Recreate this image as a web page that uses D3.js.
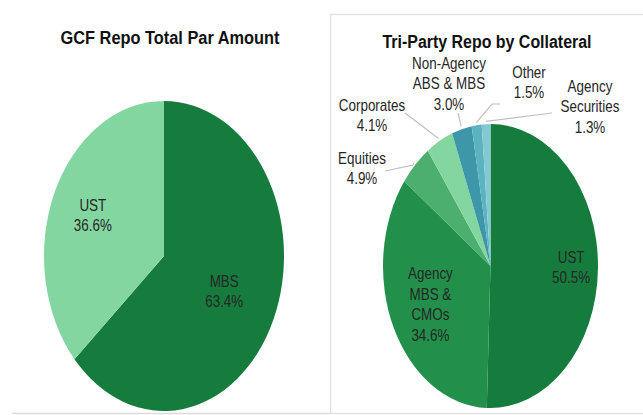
<!DOCTYPE html>
<html>
<head>
<meta charset="utf-8">
<script src="https://cdn.jsdelivr.net/npm/d3@7"></script>
<style>
  html, body { margin: 0; padding: 0; background: #fff; }
  svg { display: block; }
  .title { font-family: "Liberation Sans Narrow", "Arial Narrow", "Liberation Sans", sans-serif; font-weight: bold; fill: #111; }
  .lbl { font-family: "Liberation Sans Narrow", "Arial Narrow", "Liberation Sans", sans-serif; fill: #262626; font-size: 16px; }
</style>
</head>
<body>
<div id="chart"></div>
<script>
// GCF repo split
const gcfCategories = ["MBS", "UST"];
const gcfValues = [63.4, 36.6];

// Tri-party repo by collateral
const triCategories = ["UST", "Agency MBS & CMOs", "Equities", "Corporates", "Non-Agency ABS & MBS", "Other", "Agency Securities"];
const triValues = [50.5, 34.6, 4.9, 4.1, 3.0, 1.5, 1.3];

const W = 643, H = 415;
const svg = d3.select("#chart").append("svg")
    .attr("width", W).attr("height", H);

// frames
svg.append("line")
    .attr("x1", 12).attr("x2", 330).attr("y1", 413.5).attr("y2", 413.5)
    .attr("stroke", "#dcdcdc").attr("stroke-width", 1.5);
svg.append("rect")
    .attr("x", 330.5).attr("y", 14.5).attr("width", 320).attr("height", 399)
    .attr("fill", "none").attr("stroke", "#e2e2e2").attr("stroke-width", 1.5);

// draws an elliptical pie: d3 arcs on a circle stretched vertically
function ellipsePie(cats, vals, colors, o) {
    const pie = d3.pie().sort(null).value(d => d.v);
    const data = pie(cats.map((c, i) => ({ c, v: vals[i] })));
    const arc = d3.arc().innerRadius(0).outerRadius(o.rx);
    const g = svg.append("g")
        .attr("transform", `translate(${o.cx},${o.cy}) scale(1,${o.ry / o.rx})`);
    g.selectAll("path").data(data).join("path")
        .attr("d", arc)
        .attr("fill", d => colors(d.data.c));
    // point on ellipse edge at the slice mid angle, scaled by k
    const edge = (d, k) => {
        const a = (d.startAngle + d.endAngle) / 2;
        return [o.cx + Math.sin(a) * o.rx * k, o.cy - Math.cos(a) * o.ry * k];
    };
    return { data, edge };
}

// narrow-looking label: squeeze horizontally since no condensed font is around
function multiline(x, y, lines) {
    const t = svg.append("g")
        .attr("transform", `translate(${x},${y}) scale(0.84,1)`)
        .append("text").attr("class", "lbl")
        .attr("text-anchor", "middle");
    lines.forEach((s, i) => {
        t.append("tspan").attr("x", 0).attr("y", i * 20.5).text(s);
    });
}

// ---- left: GCF
svg.append("text").attr("class", "title")
    .attr("x", 170).attr("y", 44).attr("text-anchor", "middle")
    .attr("font-size", 18).attr("textLength", 219).attr("lengthAdjust", "spacingAndGlyphs")
    .text("GCF Repo Total Par Amount");

const gcfColor = d3.scaleOrdinal().domain(gcfCategories).range(["#167c3e", "#84d6a0"]);
const left = ellipsePie(gcfCategories, gcfValues, gcfColor, { cx: 164, cy: 256, rx: 120, ry: 155 });
const gcfLabelK = { "MBS": 0.55, "UST": 0.65 };
left.data.forEach(d => {
    const [x, y] = left.edge(d, gcfLabelK[d.data.c]);
    multiline(x, y - 4, [d.data.c, d3.format(".1f")(d.data.v) + "%"]);
});

// ---- right: tri-party
svg.append("text").attr("class", "title")
    .attr("x", 487).attr("y", 48).attr("text-anchor", "middle")
    .attr("font-size", 18).attr("textLength", 209).attr("lengthAdjust", "spacingAndGlyphs")
    .text("Tri-Party Repo by Collateral");

const triColor = d3.scaleOrdinal().domain(triCategories)
    .range(["#167c3e", "#22904a", "#4caf6f", "#84d6a0", "#3d97a8", "#5cb3c0", "#82c9d3"]);
const right = ellipsePie(triCategories, triValues, triColor, { cx: 490.5, cy: 266, rx: 107.5, ry: 142 });

// label text lines and placement
const triLines = {
    "UST": ["UST"],
    "Agency MBS & CMOs": ["Agency", "MBS &", "CMOs"],
    "Equities": ["Equities"],
    "Corporates": ["Corporates"],
    "Non-Agency ABS & MBS": ["Non-Agency", "ABS & MBS"],
    "Other": ["Other"],
    "Agency Securities": ["Agency", "Securities"]
};
const insideK = { "UST": 0.75, "Agency MBS & CMOs": 0.62 };
const outside = {
    "Equities": { x: 362, y: 164, line: [[385, 171], [413, 165]] },
    "Corporates": { x: 372, y: 111, line: [[405, 113]] },
    "Non-Agency ABS & MBS": { x: 449, y: 69, line: [[458, 113]] },
    "Other": { x: 529, y: 78, line: [[500, 104], [492, 104]] },
    "Agency Securities": { x: 590, y: 92, line: [[552, 113]] }
};

right.data.forEach(d => {
    const c = d.data.c;
    const lines = triLines[c].concat([d3.format(".1f")(d.data.v) + "%"]);
    if (insideK[c]) {
        const [x, y] = right.edge(d, insideK[c]);
        multiline(x, y - (lines.length - 1) * 10 + 5, lines);
    } else {
        const o = outside[c];
        const pts = o.line.concat([right.edge(d, 1.02)]);
        svg.append("path")
            .attr("d", d3.line()(pts))
            .attr("fill", "none").attr("stroke", "#bfbfbf").attr("stroke-width", 1.2);
        multiline(o.x, o.y, lines);
    }
});
</script>
</body>
</html>
